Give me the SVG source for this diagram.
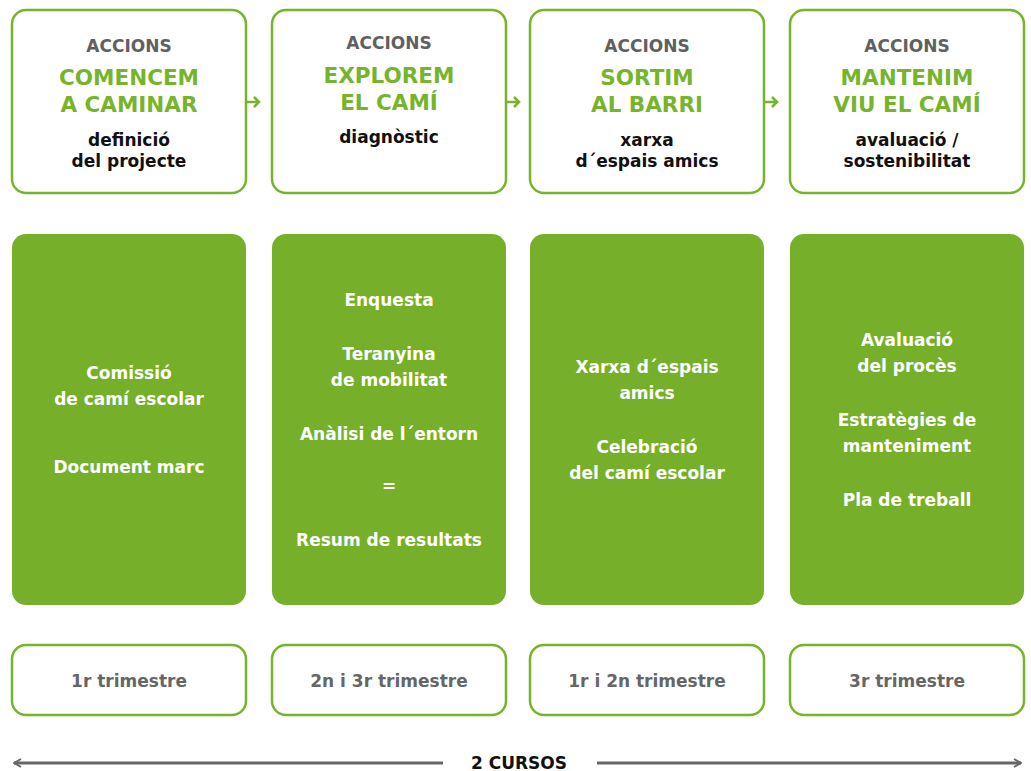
<svg xmlns="http://www.w3.org/2000/svg" width="1031" height="771" viewBox="0 0 1031 771">
<defs>
<style>
text{font-family:"DejaVu Sans","Liberation Sans",sans-serif;font-weight:700;text-anchor:middle}
.ob{fill:#fff;stroke:#76b52b;stroke-width:2.5}
.gb{fill:#76b02a}
.acc{fill:#606060;font-size:17px}
.ttl{fill:#76b52b;font-size:21.5px}
.sub{fill:#111;font-size:17px}
.wt{fill:#fff;font-size:17px}
.bt{fill:#666;font-size:17px}
.ar{fill:none;stroke:#76b52b;stroke-width:2.5}
.tl{fill:none;stroke:#666;stroke-width:3}
</style>
<marker id="ah" viewBox="0 0 10 10" refX="9" refY="5" markerWidth="10" markerHeight="10" markerUnits="userSpaceOnUse" orient="auto-start-reverse">
<path d="M2 1 L9 5 L2 9" fill="none" stroke="#666" stroke-width="2"/>
</marker>
</defs>
<g id="phase1">
<rect class="ob" x="12" y="10" width="234" height="183" rx="14"/>
<text class="acc" x="129" y="52">ACCIONS</text>
<text class="ttl" x="129" y="85">COMENCEM</text>
<text class="ttl" x="129" y="112">A CAMINAR</text>
<text class="sub" x="129" y="146">definició</text>
<text class="sub" x="129" y="167">del projecte</text>
</g>
<g id="phase2">
<rect class="ob" x="272" y="10" width="234" height="183" rx="14"/>
<text class="acc" x="389" y="49">ACCIONS</text>
<text class="ttl" x="389" y="83">EXPLOREM</text>
<text class="ttl" x="389" y="110">EL CAMÍ</text>
<text class="sub" x="389" y="143">diagnòstic</text>
</g>
<g id="phase3">
<rect class="ob" x="530" y="10" width="234" height="183" rx="14"/>
<text class="acc" x="647" y="52">ACCIONS</text>
<text class="ttl" x="647" y="85">SORTIM</text>
<text class="ttl" x="647" y="112">AL BARRI</text>
<text class="sub" x="647" y="146">xarxa</text>
<text class="sub" x="647" y="167">d´espais amics</text>
</g>
<g id="phase4">
<rect class="ob" x="790" y="10" width="234" height="183" rx="14"/>
<text class="acc" x="907" y="52">ACCIONS</text>
<text class="ttl" x="907" y="85">MANTENIM</text>
<text class="ttl" x="907" y="112">VIU EL CAMÍ</text>
<text class="sub" x="907" y="146">avaluació /</text>
<text class="sub" x="907" y="167">sostenibilitat</text>
</g>
<g id="actions1">
<rect class="gb" x="12" y="234" width="234" height="371" rx="14"/>
<text class="wt" x="129" y="379">Comissió</text>
<text class="wt" x="129" y="405">de camí escolar</text>
<text class="wt" x="129" y="473">Document marc</text>
</g>
<g id="actions2">
<rect class="gb" x="272" y="234" width="234" height="371" rx="14"/>
<text class="wt" x="389" y="306">Enquesta</text>
<text class="wt" x="389" y="360">Teranyina</text>
<text class="wt" x="389" y="386">de mobilitat</text>
<text class="wt" x="389" y="440">Anàlisi de l´entorn</text>
<text class="wt" x="389" y="492">=</text>
<text class="wt" x="389" y="546">Resum de resultats</text>
</g>
<g id="actions3">
<rect class="gb" x="530" y="234" width="234" height="371" rx="14"/>
<text class="wt" x="647" y="373">Xarxa d´espais</text>
<text class="wt" x="647" y="399">amics</text>
<text class="wt" x="647" y="453">Celebració</text>
<text class="wt" x="647" y="479">del camí escolar</text>
</g>
<g id="actions4">
<rect class="gb" x="790" y="234" width="234" height="371" rx="14"/>
<text class="wt" x="907" y="346">Avaluació</text>
<text class="wt" x="907" y="372">del procès</text>
<text class="wt" x="907" y="426">Estratègies de</text>
<text class="wt" x="907" y="452">manteniment</text>
<text class="wt" x="907" y="506">Pla de treball</text>
</g>
<g id="time1">
<rect class="ob" x="12" y="645" width="234" height="70" rx="14"/>
<text class="bt" x="129" y="687">1r trimestre</text>
</g>
<g id="time2">
<rect class="ob" x="272" y="645" width="234" height="70" rx="14"/>
<text class="bt" x="389" y="687">2n i 3r trimestre</text>
</g>
<g id="time3">
<rect class="ob" x="530" y="645" width="234" height="70" rx="14"/>
<text class="bt" x="647" y="687">1r i 2n trimestre</text>
</g>
<g id="time4">
<rect class="ob" x="790" y="645" width="234" height="70" rx="14"/>
<text class="bt" x="907" y="687">3r trimestre</text>
</g>
<g id="connectors">
<path class="ar" d="M247 102 H259 M254 97 L259 102 L254 107"/>
<path class="ar" d="M507 102 H519 M514 97 L519 102 L514 107"/>
<path class="ar" d="M765 102 H777 M772 97 L777 102 L772 107"/>
<line class="tl" x1="14" y1="763" x2="443" y2="763" marker-start="url(#ah)"/>
<line class="tl" x1="597" y1="763" x2="1021" y2="763" marker-end="url(#ah)"/>
</g>
<text x="519" y="769" style="fill:#111;font-size:17px">2 CURSOS</text>
</svg>
